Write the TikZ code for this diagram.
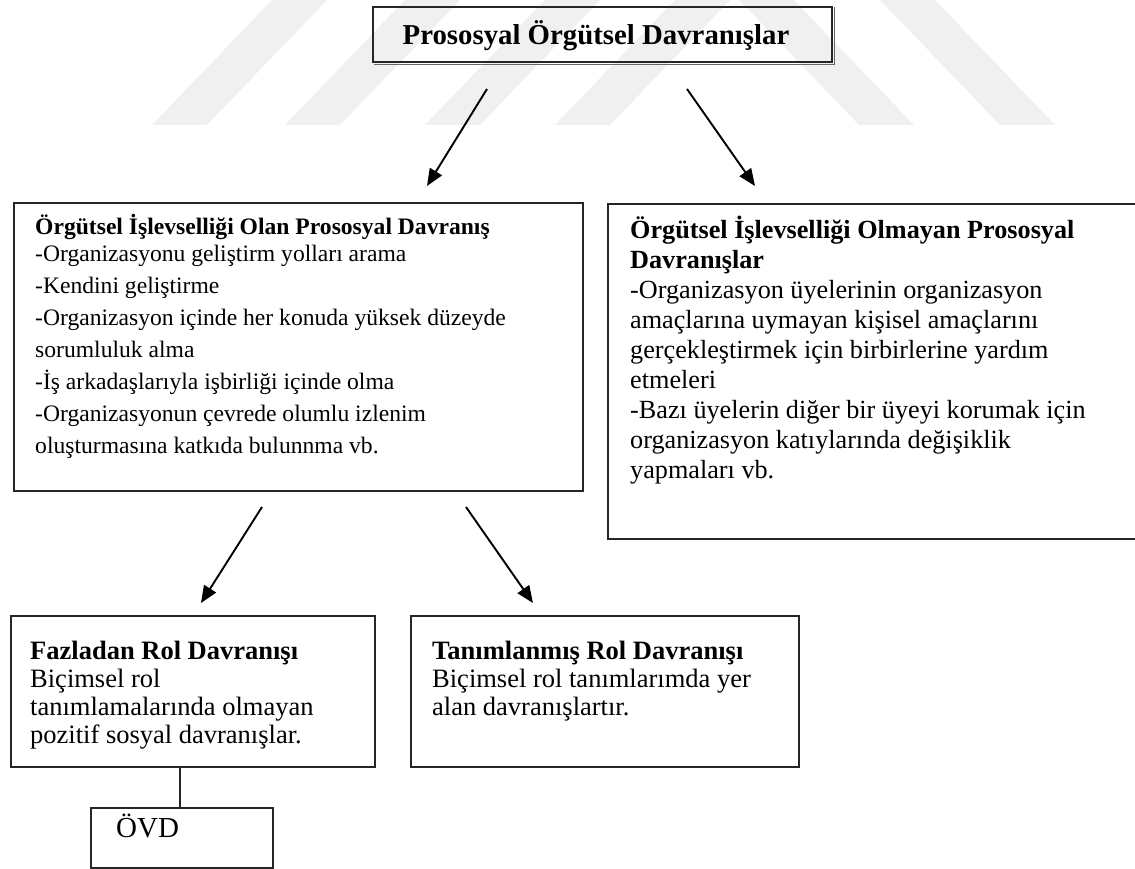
\documentclass[tikz,border=0pt]{standalone}
\usepackage{fontspec}
\setmainfont{Liberation Serif}
\usetikzlibrary{arrows.meta}
\newcommand\fstrut[1]{\rule{0pt}{#1}}
\tikzset{
  box/.style={draw=black!85, line width=1.6pt, inner sep=0pt, anchor=north west},
  txt/.style={anchor=north west, inner sep=0pt, align=left},
  arr/.style={line width=1.9pt, -{Triangle[length=17pt,width=14pt]}},
  wm/.style={fill=black!6, draw=none},
  shadowline/.style={draw=black!60, line width=1.4pt},
}
\begin{document}
\begin{tikzpicture}[x=1pt,y=-1pt]
\useasboundingbox (0,0) rectangle (1135,869);
% faint watermark stripes
\begin{scope}
\clip (0,0) rectangle (1135,869);
\foreach \a in {152,285,425,555}
  \fill[wm] (\a,125) -- (\a+55,125) -- (\a+175,0) -- (\a+120,0) -- cycle;
\foreach \b in {859,1000}
  \fill[wm] (\b,125) -- (\b+55,125) -- (\b-65,0) -- (\b-120,0) -- cycle;
\end{scope}

% top box
\node[box, line width=1.9pt, minimum width=459pt, minimum height=55pt] (top) at (372,6) {};
\draw[shadowline] ([xshift=1.5pt,yshift=-1.5pt]top.north east) -- ([xshift=1.5pt,yshift=-1.5pt]top.south east) -- ([xshift=1.5pt,yshift=-1.5pt]top.south west);
\node[anchor=base, inner sep=0pt, font=\fontsize{28.8}{34}\selectfont\bfseries] (toptxt) at (596,45) {Prososyal Örgütsel Davranışlar};

% box A
\node[box, minimum width=569pt, minimum height=288pt] (A) at (13,202) {};
\node[txt, font=\fontsize{23.6}{32}\selectfont] (Atxt) at (35,210)
 {\fstrut{24pt}\textbf{Örgütsel İşlevselliği Olan Prososyal Davranış}\\[-5pt]
  -Organizasyonu geliştirm yolları arama\\
  -Kendini geliştirme\\
  -Organizasyon içinde her konuda yüksek düzeyde\\
  sorumluluk alma\\
  -İş arkadaşlarıyla işbirliği içinde olma\\
  -Organizasyonun çevrede olumlu izlenim\\
  oluşturmasına katkıda bulunnma vb.};

% box B (runs past the right edge)
\node[box, minimum width=540pt, minimum height=335pt] (B) at (607,203) {};
\node[txt, font=\fontsize{26.2}{30}\selectfont] (Btxt) at (630,212)
 {\fstrut{26pt}\textbf{Örgütsel İşlevselliği Olmayan Prososyal}\\
  \textbf{Davranışlar}\\
  -Organizasyon üyelerinin organizasyon\\
  amaçlarına uymayan kişisel amaçlarını\\
  gerçekleştirmek için birbirlerine yardım\\
  etmeleri\\
  -Bazı üyelerin diğer bir üyeyi korumak için\\
  organizasyon katıylarında değişiklik\\
  yapmaları vb.};

% box C
\node[box, minimum width=364pt, minimum height=151pt] (C) at (10,615) {};
\node[txt, font=\fontsize{26.5}{28}\selectfont] (Ctxt) at (30,632)
 {\fstrut{27pt}\textbf{Fazladan Rol Davranışı}\\
  Biçimsel rol\\
  tanımlamalarında olmayan\\
  pozitif sosyal davranışlar.};

% box D
\node[box, minimum width=388pt, minimum height=151pt] (D) at (410,615) {};
\node[txt, font=\fontsize{26.5}{28}\selectfont] (Dtxt) at (432,632)
 {\fstrut{27pt}\textbf{Tanımlanmış Rol Davranışı}\\
  Biçimsel rol tanımlarımda yer\\
  alan davranışlartır.};

% box ÖVD
\node[box, minimum width=182pt, minimum height=60pt] (E) at (90,807) {};
\node[anchor=base west, inner sep=0pt, font=\fontsize{29}{32}\selectfont] (Etxt) at (116,837) {ÖVD};

% connectors
\coordinate (a1s) at (487,89);  \coordinate (a1e) at (427,186);
\coordinate (a2s) at (687,89);  \coordinate (a2e) at (755,186);
\coordinate (a3s) at (262,507); \coordinate (a3e) at (201,603);
\coordinate (a4s) at (466,507); \coordinate (a4e) at (533,603);
\draw[arr] (a1s) -- (a1e);
\draw[arr] (a2s) -- (a2e);
\draw[arr] (a3s) -- (a3e);
\draw[arr] (a4s) -- (a4e);
\draw[line width=1.6pt, draw=black!85] (C.south -| 180,0) -- (E.north -| 180,0);
\end{tikzpicture}
\end{document}
